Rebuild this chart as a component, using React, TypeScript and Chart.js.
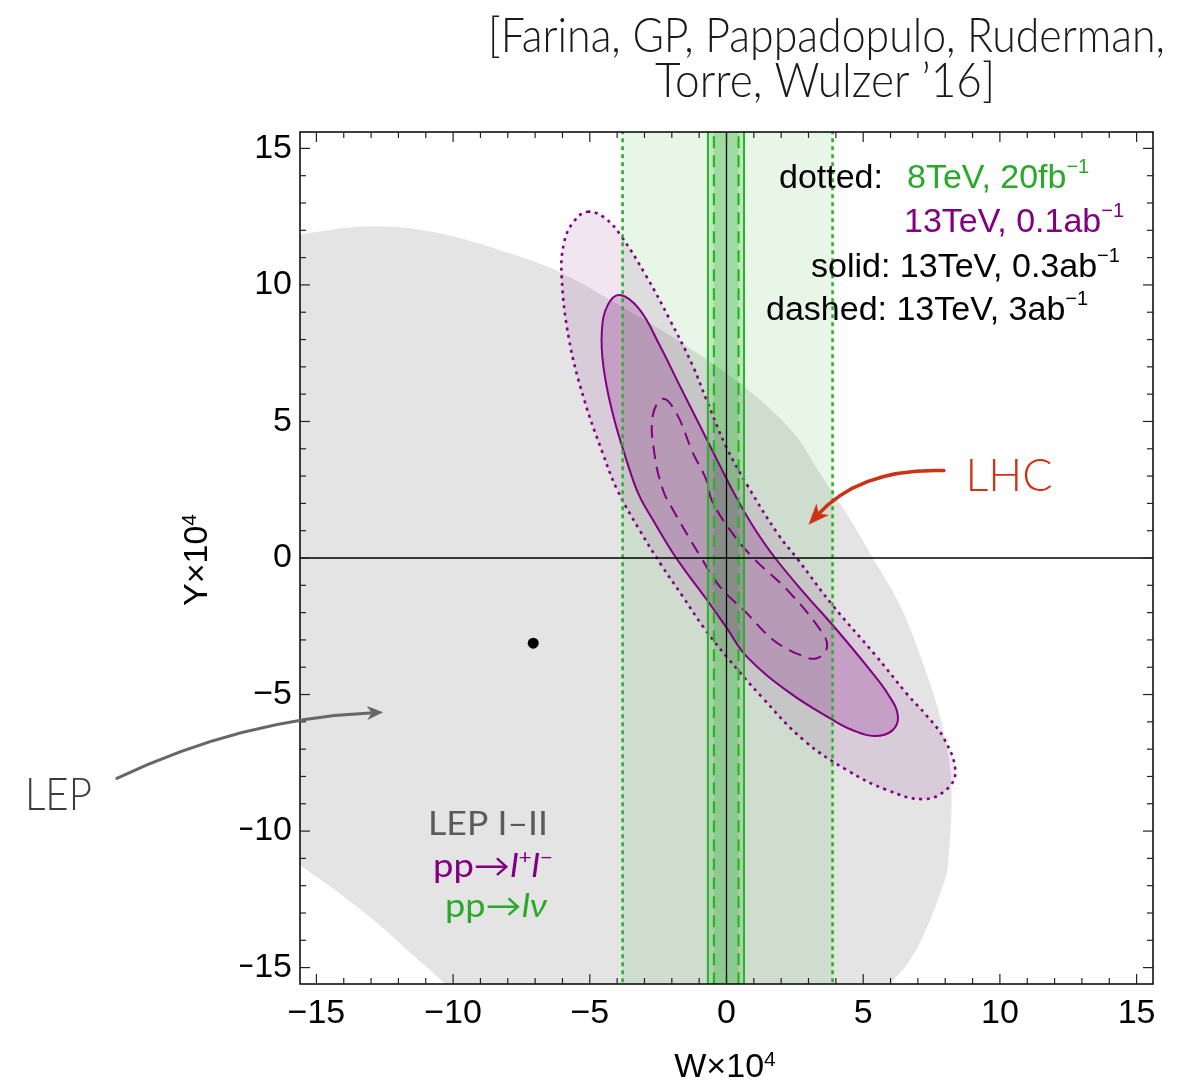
import React, { useEffect, useRef } from 'react';
import { Chart, registerables } from 'chart.js';

Chart.register(...registerables);

// ---------- axis ----------
const AXIS_MIN = -15.6;
const AXIS_MAX = 15.6;
const TICK_STEP = 1;
const MAJOR_STEP = 5;

// ---------- data (W×10^4, Y×10^4) ----------
// LEP I–II allowed region (grey)
const lepRegion: [number, number][] = [
  [-17.5, 11.5], [-15.6, 11.85], [-13.05, 12.15], [-10.66, 11.93], [-7.85, 11.13],
  [-6.05, 10.45], [-4.0, 9.3], [-1.72, 7.93], [0.61, 6.3], [2.45, 4.59],
  [3.45, 3.05], [4.41, 1.6], [5.39, -0.06], [6.37, -1.78], [7.23, -3.98],
  [7.84, -5.93], [8.22, -8.2], [8.09, -11.32], [7.9, -12.05], [7.23, -13.76],
  [6.62, -14.86], [6.0, -15.6], [5.4, -16.6], [-9.4, -16.6], [-10.29, -15.6],
  [-11.52, -14.5], [-12.75, -13.39], [-13.97, -12.42], [-15.69, -11.19], [-17.5, -10.0],
];

// pp -> l+l- : 13TeV 0.1ab^-1 (dotted)
const dottedContour: [number, number][] = [
  [-5.09, 12.68], [-4.45, 12.45], [-3.86, 11.8], [-2.94, 10.33], [-2.08, 8.74],
  [-1.23, 7.03], [-0.74, 5.81], [0.0, 4.05], [0.8, 2.6], [1.9, 0.85],
  [2.57, 0.0], [3.92, -1.78], [5.39, -3.49], [6.62, -5.0], [7.3, -5.75],
  [7.95, -6.6], [8.37, -7.77], [8.09, -8.44], [7.23, -8.83], [5.88, -8.5],
  [4.41, -7.77], [2.82, -6.67], [1.3, -5.1], [0.0, -3.61], [-0.86, -2.51],
  [-1.6, -1.41], [-2.39, -0.25], [-3.19, 1.04], [-4.0, 2.5], [-4.55, 3.9],
  [-5.21, 5.81], [-5.76, 8.01], [-6.03, 10.33], [-5.94, 11.56], [-5.6, 12.3],
];

// pp -> l+l- : 13TeV 0.3ab^-1 (solid)
const solidContour: [number, number][] = [
  [-3.9, 9.63], [-3.19, 9.11], [-2.45, 7.8], [-1.72, 6.33], [-0.98, 4.86],
  [-0.25, 3.4], [0.37, 2.2], [1.0, 1.12], [1.78, 0.0], [2.9, -1.35],
  [3.92, -2.5], [5.15, -3.98], [5.95, -5.05], [6.27, -5.8], [6.05, -6.33],
  [5.39, -6.52], [4.6, -6.3], [3.92, -5.95], [2.33, -4.95], [0.74, -3.61],
  [0.0, -2.55], [-0.74, -1.5], [-1.84, 0.0], [-2.7, 1.41], [-3.2, 2.3],
  [-3.6, 3.4], [-4.17, 5.32], [-4.5, 7.0], [-4.56, 8.3], [-4.35, 9.25],
];

// pp -> l+l- : 13TeV 3ab^-1 (dashed)
const dashedContour: [number, number][] = [
  [-2.33, 5.83], [-1.84, 5.32], [-1.23, 3.85], [-0.74, 2.87], [-0.55, 2.14],
  [0.12, 1.04], [0.98, 0.0], [2.21, -1.16], [3.43, -2.63], [3.68, -3.24],
  [3.31, -3.67], [2.69, -3.55], [1.71, -3.0], [0.74, -2.02], [-0.25, -1.04],
  [-0.92, 0.0], [-1.96, 1.77], [-2.33, 2.51], [-2.64, 3.85], [-2.7, 5.2],
];

// pp -> l nu : W bounds (vertical bands)
const dottedBand: [number, number] = [-3.8, 3.88];   // 8TeV 20fb^-1
const solidBand: [number, number] = [-0.68, 0.64];   // 13TeV 0.3ab^-1
const dashedBand: [number, number] = [-0.46, 0.44];  // 13TeV 3ab^-1
const BAND_Y: [number, number] = [-17, 17];

// best-fit point
const bestFitPoint: [number, number] = [-7.07, -3.12];

// reference lines
const zeroLineH: [number, number][] = [[-17, 0], [17, 0]];
const zeroLineV: [number, number][] = [[0, -17], [0, 17]];

// annotation arrows (start, control, tip) in data coordinates
const lhcArrow: [number, number][] = [[7.95, 3.2], [4.9, 3.3], [3.0, 1.22]];
const lepArrow: [number, number][] = [[-22.3, -8.07], [-17.71, -5.88], [-12.56, -5.65]];

// ---------- styles ----------
const SANS = '"Liberation Sans", Arial, Helvetica, sans-serif';
const HUM = 'Lato, "Open Sans", sans-serif';
const PURPLE = '#800080';
const GREEN_LINE = '#28b428';
const GREEN_TEXT = '#2aa82a';
const RED = 'rgb(205,50,20)';

const toPts = (arr: [number, number][]) => arr.map(([x, y]) => ({ x, y }));
const bandRect = (b: [number, number]): [number, number][] => [
  [b[0], BAND_Y[0]], [b[1], BAND_Y[0]], [b[1], BAND_Y[1]], [b[0], BAND_Y[1]],
];
const vLine = (x: number): [number, number][] => [[x, BAND_Y[0]], [x, BAND_Y[1]]];

type Run = { t: string; font: string; color: string; sup?: number };

function drawRuns(
  ctx: CanvasRenderingContext2D, runs: Run[], x: number, y: number,
  align: 'left' | 'center' | 'right', fitWidth?: number,
) {
  ctx.save();
  const widths = runs.map((r) => { ctx.font = r.font; return ctx.measureText(r.t).width; });
  const total = widths.reduce((s, w) => s + w, 0);
  const sx = fitWidth ? fitWidth / total : 1;
  const w = total * sx;
  const x0 = align === 'left' ? x : align === 'center' ? x - w / 2 : x - w;
  ctx.translate(x0, y);
  ctx.scale(sx, 1);
  ctx.textAlign = 'left';
  ctx.textBaseline = 'alphabetic';
  let cx = 0;
  runs.forEach((r, i) => {
    ctx.font = r.font;
    ctx.fillStyle = r.color;
    ctx.fillText(r.t, cx, -(r.sup || 0));
    cx += widths[i];
  });
  ctx.restore();
}

function drawArrow(
  ctx: CanvasRenderingContext2D, chart: any, pts: [number, number][],
  color: string, width: number, headLen: number, headW: number,
) {
  const xs = chart.scales.x, ys = chart.scales.y;
  const P = pts.map(([x, y]) => [xs.getPixelForValue(x), ys.getPixelForValue(y)]);
  const [p0, c, p1] = P;
  let dx = p1[0] - c[0], dy = p1[1] - c[1];
  const L = Math.hypot(dx, dy);
  dx /= L; dy /= L;
  const nx = -dy, ny = dx;
  const endX = p1[0] - dx * headLen * 0.6, endY = p1[1] - dy * headLen * 0.6;
  ctx.save();
  ctx.strokeStyle = color;
  ctx.lineWidth = width;
  ctx.lineCap = 'round';
  ctx.beginPath();
  ctx.moveTo(p0[0], p0[1]);
  ctx.quadraticCurveTo(c[0], c[1], endX, endY);
  ctx.stroke();
  const bx = p1[0] - dx * headLen, by = p1[1] - dy * headLen;
  ctx.fillStyle = color;
  ctx.beginPath();
  ctx.moveTo(p1[0], p1[1]);
  ctx.lineTo(bx + nx * headW / 2, by + ny * headW / 2);
  ctx.lineTo(p1[0] - dx * headLen * 0.72, p1[1] - dy * headLen * 0.72);
  ctx.lineTo(bx - nx * headW / 2, by - ny * headW / 2);
  ctx.closePath();
  ctx.fill();
  ctx.restore();
}

const loopPlugin = {
  id: 'loopShapes',
  afterDatasetsUpdate(chart: any) {
    chart.data.datasets.forEach((ds: any, i: number) => {
      if (ds.closed) {
        const line = chart.getDatasetMeta(i).dataset;
        if (line) { line._loop = true; line._fullLoop = true; }
      }
    });
  },
};

const framePlugin = {
  id: 'frame',
  afterDatasetsDraw(chart: any) {
    const { ctx, chartArea: a, scales } = chart;
    const xs = scales.x, ys = scales.y;
    ctx.save();
    ctx.strokeStyle = '#000';
    ctx.lineWidth = 1.5;
    ctx.strokeRect(a.left, a.top, a.right - a.left, a.bottom - a.top);
    ctx.lineWidth = 1.2;
    ctx.strokeStyle = '#222';
    const seg = (x1: number, y1: number, x2: number, y2: number) => {
      ctx.beginPath(); ctx.moveTo(x1, y1); ctx.lineTo(x2, y2); ctx.stroke();
    };
    xs.ticks.forEach((t: any) => {
      const len = Math.abs(t.value % MAJOR_STEP) < 1e-9 ? 10 : 6;
      const px = xs.getPixelForValue(t.value);
      seg(px, a.bottom, px, a.bottom - len);
      seg(px, a.top, px, a.top + len);
    });
    ys.ticks.forEach((t: any) => {
      const len = Math.abs(t.value % MAJOR_STEP) < 1e-9 ? 10 : 6;
      const py = ys.getPixelForValue(t.value);
      seg(a.left, py, a.left + len, py);
      seg(a.right, py, a.right - len, py);
    });
    ctx.restore();
  },
  afterDraw(chart: any) {
    const ctx: CanvasRenderingContext2D = chart.ctx;
    const f34 = `400 34px ${SANS}`;
    const f20 = `400 20px ${SANS}`;
    // title
    drawRuns(ctx, [{ t: '[Farina, GP, Pappadopulo, Ruderman,', font: `300 48px ${HUM}`, color: '#1a1a1a' }], 826.5, 52, 'center', 677);
    drawRuns(ctx, [{ t: 'Torre, Wulzer \u201916]', font: `300 48px ${HUM}`, color: '#1a1a1a' }], 825, 97, 'center', 340);
    // legend text
    drawRuns(ctx, [{ t: 'dotted:', font: f34, color: '#000' }], 779, 188, 'left');
    drawRuns(ctx, [{ t: '8TeV, 20fb', font: f34, color: GREEN_TEXT }, { t: '\u22121', font: f20, color: GREEN_TEXT, sup: 15 }], 907, 188, 'left');
    drawRuns(ctx, [{ t: '13TeV, 0.1ab', font: f34, color: PURPLE }, { t: '\u22121', font: f20, color: PURPLE, sup: 15 }], 904, 232, 'left');
    drawRuns(ctx, [{ t: 'solid: 13TeV, 0.3ab', font: f34, color: '#000' }, { t: '\u22121', font: f20, color: '#000', sup: 15 }], 811, 277, 'left');
    drawRuns(ctx, [{ t: 'dashed: 13TeV, 3ab', font: f34, color: '#000' }, { t: '\u22121', font: f20, color: '#000', sup: 15 }], 766, 320, 'left');
    // region labels
    drawRuns(ctx, [{ t: 'LEP I\u2013II', font: `400 32px ${HUM}`, color: '#5a5a5a' }], 428, 835, 'left', 120);
    drawRuns(ctx, [
      { t: 'pp\u2192', font: `400 32px ${HUM}`, color: PURPLE },
      { t: 'l', font: `italic 400 32px ${HUM}`, color: PURPLE },
      { t: '+', font: `400 20px ${HUM}`, color: PURPLE, sup: 13 },
      { t: 'l', font: `italic 400 32px ${HUM}`, color: PURPLE },
      { t: '\u2212', font: `400 20px ${HUM}`, color: PURPLE, sup: 13 },
    ], 433, 877, 'left', 120);
    drawRuns(ctx, [
      { t: 'pp\u2192', font: `400 32px ${HUM}`, color: GREEN_TEXT },
      { t: 'l\u03bd', font: `italic 400 32px ${HUM}`, color: GREEN_TEXT },
    ], 445, 917, 'left', 102);
    drawRuns(ctx, [{ t: 'LHC', font: `300 46px ${HUM}`, color: RED }], 965.6, 491, 'left', 87);
    drawRuns(ctx, [{ t: 'LEP', font: `300 46px ${HUM}`, color: '#3c3c3c' }], 25, 810, 'left', 67);
    // arrows
    drawArrow(ctx, chart, lhcArrow, RED, 3.5, 21, 17);
    drawArrow(ctx, chart, lepArrow, '#666', 3, 16, 14);
    // axis titles
    drawRuns(ctx, [{ t: 'W\u00d710', font: f34, color: '#000' }, { t: '4', font: `400 21px ${SANS}`, color: '#000', sup: 11 }], 725, 1077, 'center');
    ctx.save();
    ctx.translate(207, 560);
    ctx.rotate(-Math.PI / 2);
    drawRuns(ctx, [{ t: 'Y\u00d710', font: f34, color: '#000' }, { t: '4', font: `400 21px ${SANS}`, color: '#000', sup: 11 }], 0, 0, 'center');
    ctx.restore();
  },
};

function buildConfig(): any {
  const base = { showLine: true, pointRadius: 0, pointHoverRadius: 0, clip: 0, capBezierPoints: false };
  const datasets: any[] = [
    { ...base, data: toPts(lepRegion), closed: true, fill: 'shape', backgroundColor: '#e4e4e4', borderWidth: 0, borderColor: 'rgba(0,0,0,0)', tension: 0.35 },
    { ...base, data: toPts(bandRect(dottedBand)), closed: true, fill: 'shape', backgroundColor: 'rgba(30,170,30,0.1)', borderWidth: 0, borderColor: 'rgba(0,0,0,0)', tension: 0 },
    { ...base, data: toPts(bandRect(solidBand)), closed: true, fill: 'shape', backgroundColor: 'rgba(30,170,30,0.2)', borderWidth: 0, borderColor: 'rgba(0,0,0,0)', tension: 0 },
    { ...base, data: toPts(bandRect(dashedBand)), closed: true, fill: 'shape', backgroundColor: 'rgba(30,170,30,0.2)', borderWidth: 0, borderColor: 'rgba(0,0,0,0)', tension: 0 },
    { ...base, data: toPts(dottedContour), closed: true, fill: 'shape', backgroundColor: 'rgba(128,0,128,0.1)', borderColor: PURPLE, borderWidth: 2.6, borderDash: [3, 4.5], tension: 0.4 },
    { ...base, data: toPts(solidContour), closed: true, fill: 'shape', backgroundColor: 'rgba(128,0,128,0.22)', borderColor: PURPLE, borderWidth: 2, tension: 0.4 },
    { ...base, data: toPts(dashedContour), closed: true, fill: false, backgroundColor: 'rgba(0,0,0,0)', borderColor: PURPLE, borderWidth: 2, borderDash: [13, 8], tension: 0.4 },
    { ...base, data: toPts(vLine(dottedBand[0])), fill: false, borderColor: GREEN_LINE, borderWidth: 2.6, borderDash: [4, 4] },
    { ...base, data: toPts(vLine(dottedBand[1])), fill: false, borderColor: GREEN_LINE, borderWidth: 2.6, borderDash: [4, 4] },
    { ...base, data: toPts(vLine(solidBand[0])), fill: false, borderColor: GREEN_LINE, borderWidth: 2 },
    { ...base, data: toPts(vLine(solidBand[1])), fill: false, borderColor: GREEN_LINE, borderWidth: 2 },
    { ...base, data: toPts(vLine(dashedBand[0])), fill: false, borderColor: GREEN_LINE, borderWidth: 2.2, borderDash: [12, 7] },
    { ...base, data: toPts(vLine(dashedBand[1])), fill: false, borderColor: GREEN_LINE, borderWidth: 2.2, borderDash: [12, 7] },
    { ...base, data: toPts(zeroLineH), fill: false, borderColor: '#000', borderWidth: 1.3 },
    { ...base, data: toPts(zeroLineV), fill: false, borderColor: '#000', borderWidth: 1.3 },
    { data: toPts([bestFitPoint]), showLine: false, pointRadius: 5.5, pointHoverRadius: 5.5, pointBackgroundColor: '#000', pointBorderWidth: 0, clip: 0 },
  ];
  datasets.forEach((d, i) => { d.order = 100 - i; });

  const tickFmt = (v: any) => {
    const n = Number(v);
    if (Math.abs(n % MAJOR_STEP) > 1e-9) return '';
    return n < 0 ? '\u2212' + Math.abs(n) : String(n);
  };
  const scaleCommon = {
    type: 'linear',
    min: AXIS_MIN,
    max: AXIS_MAX,
    grid: { display: false, drawTicks: false },
    border: { display: false },
    ticks: {
      stepSize: TICK_STEP, includeBounds: false, autoSkip: false, maxRotation: 0,
      font: { family: SANS, size: 34 }, color: '#000', callback: tickFmt,
    },
  };
  return {
    type: 'scatter',
    data: { datasets },
    options: {
      responsive: false,
      devicePixelRatio: 1,
      animation: false,
      events: [],
      layout: { padding: { left: 240, top: 132, right: 38, bottom: 48 } },
      elements: { line: { capBezierPoints: false } },
      plugins: { legend: { display: false }, tooltip: { enabled: false }, title: { display: false } },
      scales: {
        x: { ...scaleCommon, position: 'bottom', ticks: { ...scaleCommon.ticks, padding: 9 }, afterFit: (s: any) => { s.height = 50; } },
        y: { ...scaleCommon, position: 'left', ticks: { ...scaleCommon.ticks, padding: 8 }, afterFit: (s: any) => { s.width = 60; } },
      },
    },
    plugins: [loopPlugin, framePlugin],
  };
}

export default function App() {
  const ref = useRef<HTMLCanvasElement>(null);
  useEffect(() => {
    if (!ref.current) return;
    const chart = new Chart(ref.current, buildConfig());
    return () => chart.destroy();
  }, []);
  return (
    <div style={{ position: 'fixed', left: 0, top: 0, width: 1191, height: 1082, background: '#fff' }}>
      <canvas ref={ref} width={1191} height={1082} style={{ display: 'block', width: 1191, height: 1082 }} />
    </div>
  );
}
